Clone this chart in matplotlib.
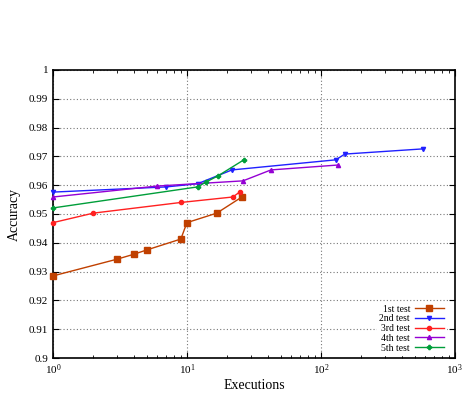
import matplotlib
matplotlib.use("Agg")
import matplotlib.pyplot as plt
from matplotlib.ticker import FuncFormatter, LogLocator, MultipleLocator

plt.rcParams["font.family"] = "Liberation Serif"
plt.rcParams["mathtext.fontset"] = "custom"
plt.rcParams["mathtext.rm"] = "Liberation Serif"

# executions / accuracy
x1 = [1, 3, 4, 5, 9, 10, 16.7, 25.7]
y1 = [0.9285, 0.9343, 0.9360, 0.9375, 0.9413, 0.9470, 0.9503, 0.9559]
x2 = [1, 7, 12, 21.7, 129, 151, 578]
y2 = [0.9576, 0.9594, 0.9605, 0.9653, 0.9688, 0.9708, 0.9726]
x3 = [1, 2, 9, 22, 24.9]
y3 = [0.9470, 0.9503, 0.9540, 0.9559, 0.9577]
x4 = [1, 6, 26.2, 42.4, 134]
y4 = [0.9559, 0.9597, 0.9615, 0.9653, 0.9670]
x5 = [1, 12, 13.9, 17, 26.6]
y5 = [0.9521, 0.9594, 0.9611, 0.9632, 0.9688]

labels = ["1st test", "2nd test", "3rd test", "4th test", "5th test"]
colors = ["#c04000", "#2020ff", "#ff2020", "#9400d3", "#009e3a"]
markers = ["s", "v", "o", "^", "P"]
msizes = [5, 3, 3, 3, 3]

fig = plt.figure(figsize=(4.67, 3.93), dpi=100)
ax = fig.add_axes([0.1135, 0.089, 0.8605, 0.733])

series = [(x1, y1), (x2, y2), (x3, y3), (x4, y4), (x5, y5)]
for (xs, ys), lab, c, m, ms in zip(series, labels, colors, markers, msizes):
    ax.plot(xs, ys, color=c, marker=m, markersize=ms, linewidth=1, label=lab,
            clip_on=False, zorder=3)

ax.set_xscale("log")
ax.set_xlim(1, 1000)
ax.set_ylim(0.9, 1.0)
ax.yaxis.set_major_locator(MultipleLocator(0.01))
ax.yaxis.set_major_formatter(FuncFormatter(lambda v, p: "%g" % round(v, 2)))
ax.xaxis.set_major_locator(LogLocator(base=10))
ax.xaxis.set_minor_locator(LogLocator(base=10, subs=range(2, 10)))

ax.grid(True, which="major", color="#777777", linestyle=(0, (1, 2)), linewidth=0.8)
ax.tick_params(which="both", direction="in", top=True, right=True, labelsize=8)
ax.tick_params(which="major", length=4, width=0.8)
ax.tick_params(which="minor", length=2, width=0.6)
for sp in ax.spines.values():
    sp.set_linewidth(1.2)

ax.set_xlabel("Executions", fontsize=10, labelpad=1)
ax.set_ylabel("Accuracy", fontsize=10, labelpad=6)

leg = ax.legend(loc="lower right", frameon=True, fancybox=False, edgecolor="white",
                framealpha=1, markerfirst=False, fontsize=7, handlelength=3,
                labelspacing=0.08, borderpad=0.2, handletextpad=0.5,
                bbox_to_anchor=(0.99, -0.005))
leg.set_zorder(5)

fig.savefig("out.png", dpi=100)
